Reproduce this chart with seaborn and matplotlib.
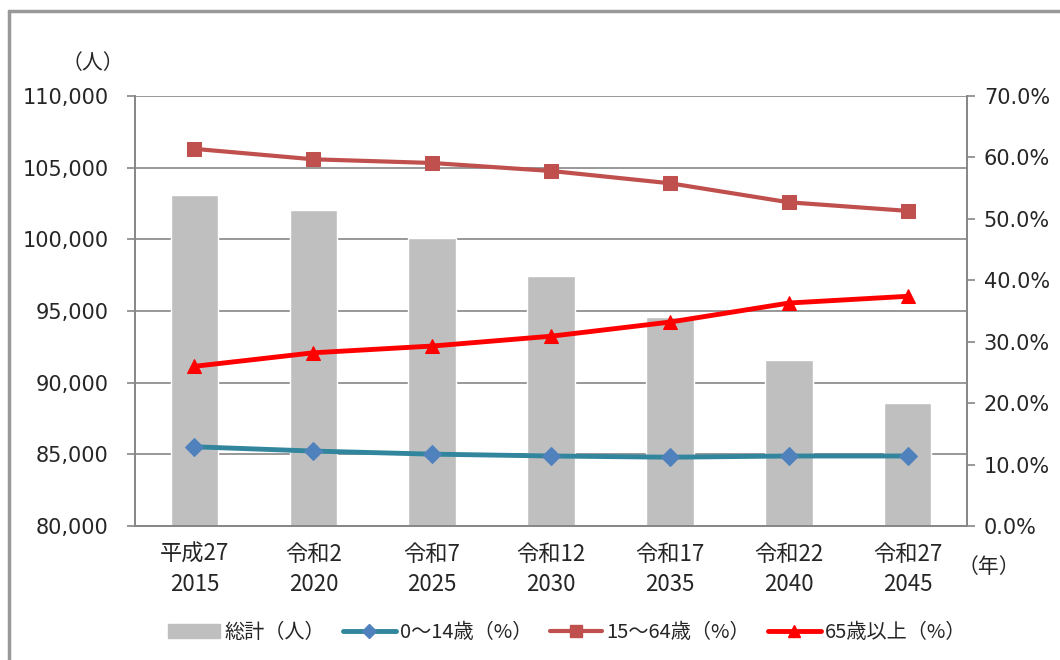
import numpy as np
import pandas as pd
import seaborn as sns
import matplotlib.pyplot as plt
from matplotlib.ticker import FuncFormatter, FixedLocator
from matplotlib.lines import Line2D

# data
wareki = ["平成27", "令和2", "令和7", "令和12", "令和17", "令和22", "令和27"]
years = ["2015", "2020", "2025", "2030", "2035", "2040", "2045"]
total = [103090, 102060, 100080, 97440, 94580, 91580, 88580]
age_0_14 = [0.129, 0.122, 0.117, 0.114, 0.112, 0.114, 0.114]
age_15_64 = [0.614, 0.597, 0.591, 0.578, 0.558, 0.527, 0.513]
age_65 = [0.260, 0.282, 0.293, 0.309, 0.332, 0.363, 0.374]

labels = [w + "\n" + y for w, y in zip(wareki, years)]
df = pd.DataFrame({"pos": np.arange(len(years)), "label": labels, "total": total,
                   "a0": age_0_14, "a15": age_15_64, "a65": age_65})

sns.set_style("white")
plt.rcParams["font.family"] = ["Noto Sans CJK JP", "DejaVu Sans"]
num_font = ["DejaVu Sans", "Noto Sans CJK JP"]

fig = plt.figure(figsize=(10.6, 6.6), dpi=100)
ax = fig.add_axes([0.1274, 0.203, 0.785, 0.6515])

grid_c = "#868686"
sns.barplot(data=df, x="label", y="total", color="#BFBFBF", width=0.4,
            saturation=1, ax=ax, zorder=2)
ax.set_ylim(80000, 110000)
ax.set_xlim(-0.5, 6.5)
ax.set_yticks(np.arange(80000, 110001, 5000))
ax.yaxis.set_major_formatter(FuncFormatter(lambda v, p: f"{int(v):,}"))
ax.yaxis.grid(True, color=grid_c, lw=1.2, zorder=0)
ax.set_axisbelow(True)
ax.set_xlabel("")
ax.set_ylabel("")
ax.xaxis.set_minor_locator(FixedLocator(np.arange(-0.5, 7, 1)))
ax.tick_params(axis="x", which="major", length=0, labelsize=16, pad=12)
ax.tick_params(axis="x", which="minor", length=6, color=grid_c, width=1.2)
ax.tick_params(axis="y", length=6, color=grid_c, width=1.2, labelsize=15,
               left=True, pad=13)
for lab in ax.get_xticklabels():
    lab.set_linespacing(1.4)
for lab in ax.get_yticklabels():
    lab.set_family(num_font)

ax2 = ax.twinx()
sns.lineplot(data=df, x="pos", y="a0", ax=ax2, color="#31859C", lw=3.5,
             marker="D", markersize=9, markerfacecolor="#4F81BD",
             markeredgecolor="#4F81BD", zorder=3)
sns.lineplot(data=df, x="pos", y="a15", ax=ax2, color="#C0504D", lw=3,
             marker="s", markersize=10, markerfacecolor="#C0504D",
             markeredgecolor="#C0504D", zorder=3)
sns.lineplot(data=df, x="pos", y="a65", ax=ax2, color="#FF0000", lw=3.5,
             marker="^", markersize=10, markerfacecolor="#FF0000",
             markeredgecolor="#FF0000", zorder=3)
ax2.set_ylim(0, 0.7)
ax2.set_xlim(-0.5, 6.5)
ax2.set_yticks(np.arange(0, 0.71, 0.1))
ax2.yaxis.set_major_formatter(FuncFormatter(lambda v, p: f"{v*100:.1f}%"))
ax2.set_ylabel("")
ax2.set_xlabel("")
ax2.tick_params(axis="y", length=6, color=grid_c, width=1.2, labelsize=15,
                right=True, pad=6)
for lab in ax2.get_yticklabels():
    lab.set_family(num_font)

for a in (ax, ax2):
    a.spines["top"].set_visible(False)
    for s in ("left", "right", "bottom"):
        a.spines[s].set_color(grid_c)
        a.spines[s].set_linewidth(1.2)

fig.text(0.088, 0.905, "（人）", fontsize=15, ha="center", va="center")
fig.text(0.933, 0.141, "（年）", fontsize=15, ha="center", va="center")

handles = [
    plt.Rectangle((0, 0), 1, 1, color="#BFBFBF"),
    Line2D([], [], color="#31859C", lw=3.5, marker="D", markersize=7,
           markerfacecolor="#4F81BD", markeredgecolor="#4F81BD"),
    Line2D([], [], color="#C0504D", lw=3, marker="s", markersize=8,
           markerfacecolor="#C0504D", markeredgecolor="#C0504D"),
    Line2D([], [], color="#FF0000", lw=3.5, marker="^", markersize=8,
           markerfacecolor="#FF0000", markeredgecolor="#FF0000"),
]
names = ["総計（人）", "0～14歳（%）", "15～64歳（%）", "65歳以上（%）"]
fig.legend(handles, names, loc="center", bbox_to_anchor=(0.535, 0.042), ncol=4,
           frameon=False, fontsize=14.5, handlelength=2.6, handletextpad=0.2,
           columnspacing=0.9)

# outer chart border (left and top visible)
fig.add_artist(Line2D([0.0085, 0.0085], [0, 0.983], color="#999999", lw=2.5))
fig.add_artist(Line2D([0.0085, 1.0], [0.983, 0.983], color="#999999", lw=2.5))

fig.savefig("out.png", dpi=100)
